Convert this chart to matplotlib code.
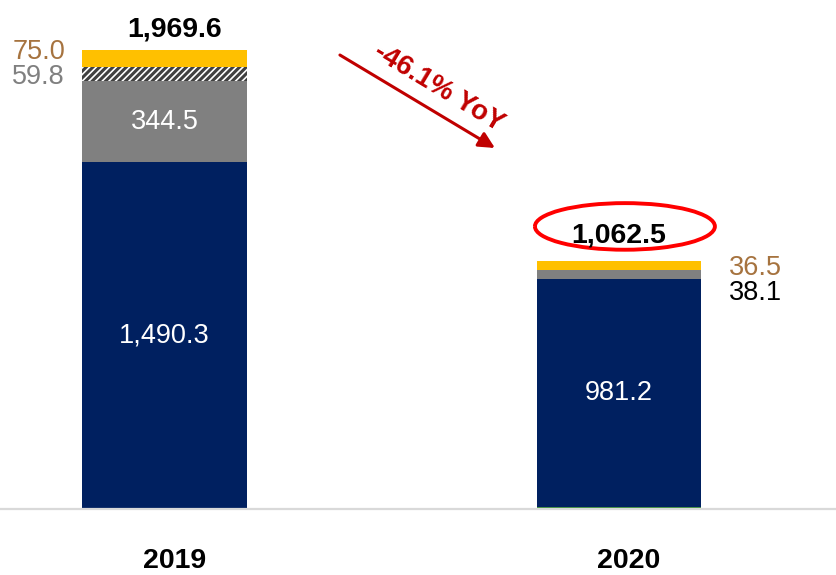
import matplotlib.pyplot as plt
from matplotlib.patches import Arc
from matplotlib.transforms import ScaledTranslation

plt.rcParams['font.family'] = ['Liberation Sans', 'DejaVu Sans']
plt.rcParams['hatch.linewidth'] = 2.2

# data
years = ['2019', '2020']
other = [0.0, 6.7]
core = [1490.3, 981.2]
second = [344.5, 38.1]
hatched = [59.8, 0.0]
top = [75.0, 36.5]
totals = [1969.6, 1062.5]
yoy_text = '-46.1% YoY'

NAVY = '#002060'
GRAY = '#808080'
YELLOW = '#FFC000'
GREEN = '#3a8a3a'
BROWN = '#A6733F'
DARKRED = '#C00000'

fig = plt.figure(figsize=(8.37, 5.75), dpi=100)
ax = fig.add_axes([0, 66 / 575, 1, 509 / 575])

x = [0, 1]
w = 0.363
b0 = [0.0, 0.0]
b1 = [b0[i] + other[i] for i in x]
b2 = [b1[i] + core[i] for i in x]
b3 = [b2[i] + second[i] for i in x]
b4 = [b3[i] + hatched[i] for i in x]

ax.bar(x, other, w, bottom=b0, color=GREEN, linewidth=0)
ax.bar(x, core, w, bottom=b1, color=NAVY, linewidth=0)
ax.bar(x, second, w, bottom=b2, color=GRAY, linewidth=0)
ax.bar(x, hatched, w, bottom=b3, color='white', edgecolor='#404040', hatch='/////', linewidth=0)
ax.bar(x, top, w, bottom=b4, color=YELLOW, linewidth=0)

num = dict(fontsize=19.5)
big = dict(fontsize=20.5, fontweight='bold')

# labels inside the bars
for i in x:
    ax.text(i, b1[i] + core[i] / 2, f'{core[i]:,.1f}', color='white', ha='center', va='center', **num)
ax.text(0, b2[0] + second[0] / 2, f'{second[0]:,.1f}', color='white', ha='center', va='center', **num)

# side labels, 2019
ax.annotate(f'{top[0]:.1f}', xy=(-w / 2, b4[0] + top[0] / 2), xytext=(-17, 0),
            textcoords='offset pixels', ha='right', va='baseline', color=BROWN, **num)
ax.annotate(f'{hatched[0]:.1f}', xy=(-w / 2, b3[0] + hatched[0] / 2), xytext=(-17, -9.5),
            textcoords='offset pixels', ha='right', va='baseline', color=GRAY, **num)

# side labels, 2020
ax.annotate(f'{top[1]:.1f}', xy=(1 + w / 2, b4[1] + top[1] / 2), xytext=(27, -9),
            textcoords='offset pixels', ha='left', va='baseline', color=BROWN, **num)
ax.annotate(f'{second[1]:.1f}', xy=(1 + w / 2, b2[1] + second[1] / 2), xytext=(27, -26),
            textcoords='offset pixels', ha='left', va='baseline', color='black', **num)

# totals
ax.annotate(f'{totals[0]:,.1f}', xy=(0, totals[0]), xytext=(10, 13),
            textcoords='offset pixels', ha='center', va='baseline', color='black', **big)
ax.annotate(f'{totals[1]:,.1f}', xy=(1, totals[1]), xytext=(0, 19),
            textcoords='offset pixels', ha='center', va='baseline', color='black', **big)

# red loop round the 2020 total (left a little open, like a pen stroke)
ax.add_patch(Arc((1.013, totals[1] + 150), 0.396, 200, theta1=200, theta2=525,
                 edgecolor='#FF0000', linewidth=2.8))

# yoy arrow
ax.annotate('', xy=(0.727, 1549), xytext=(0.386, 1948),
            arrowprops=dict(arrowstyle='-|>', color=DARKRED, lw=2.2, mutation_scale=24,
                            shrinkA=0, shrinkB=0))
ax.text(0.603, 1805, yoy_text, rotation=-31, rotation_mode='anchor', ha='center', va='center',
        color=DARKRED, fontsize=20, fontweight='bold')

ax.set_xlim(-164.5 / 454.5, (837 - 164.5) / 454.5)
ax.set_ylim(0, 509 / 0.23305)
ax.set_yticks([])
ax.set_xticks(x)
ax.set_xticklabels(years, fontsize=20.5, fontweight='bold')
ax.tick_params(axis='x', length=0, pad=28)
for lab in ax.get_xticklabels():
    lab.set_transform(lab.get_transform() + ScaledTranslation(0.1, 0, fig.dpi_scale_trans))
for s in ['top', 'left', 'right']:
    ax.spines[s].set_visible(False)
ax.spines['bottom'].set_color('#d9d9d9')
ax.spines['bottom'].set_linewidth(1.6)

plt.savefig('out.png', dpi=100)
plt.close()
